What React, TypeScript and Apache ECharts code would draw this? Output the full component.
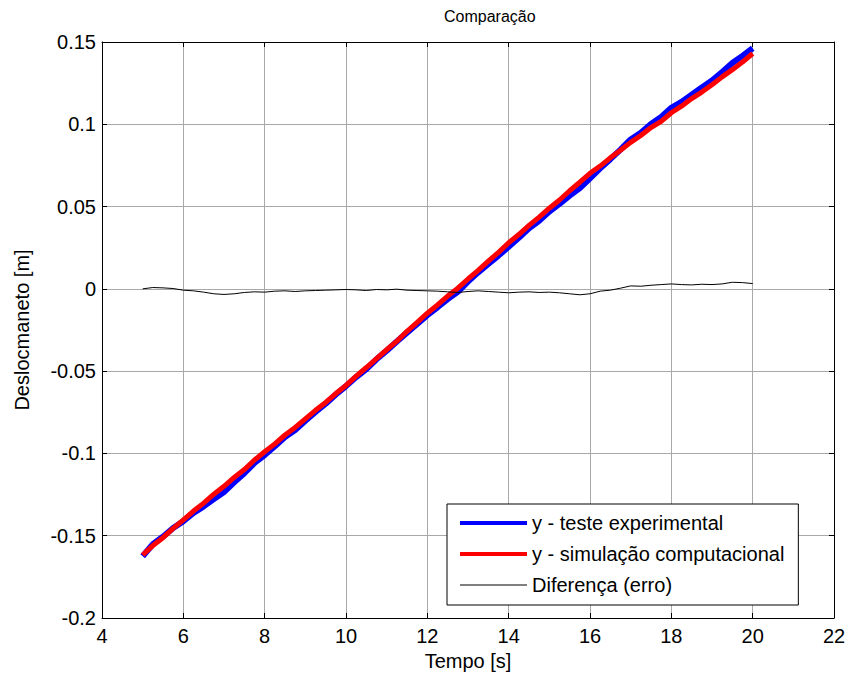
import React, { useEffect, useRef } from "react";
import * as echarts from "echarts";

const TITLE = "Comparação";
const X_NAME = "Tempo [s]";
const Y_NAME = "Deslocmaneto [m]";
const SERIES_NAMES = ["y - teste experimental", "y - simulação computacional", "Diferença (erro)"];

const xTicks = [4, 6, 8, 10, 12, 14, 16, 18, 20, 22];
const yTicks = [-0.2, -0.15, -0.1, -0.05, 0, 0.05, 0.1, 0.15];

const time = [
  5.0, 5.25, 5.5, 5.75, 6.0, 6.25, 6.5, 6.75, 7.0, 7.25, 7.5, 7.75, 8.0, 8.25, 8.5, 8.75,
  9.0, 9.25, 9.5, 9.75, 10.0, 10.25, 10.5, 10.75, 11.0, 11.25, 11.5, 11.75, 12.0, 12.25, 12.5, 12.75,
  13.0, 13.25, 13.5, 13.75, 14.0, 14.25, 14.5, 14.75, 15.0, 15.25, 15.5, 15.75, 16.0, 16.25, 16.5, 16.75,
  17.0, 17.25, 17.5, 17.75, 18.0, 18.25, 18.5, 18.75, 19.0, 19.25, 19.5, 19.75, 20.0,
];

const simulated = [
  -0.1617, -0.156, -0.1512, -0.1455, -0.1404, -0.135, -0.1302, -0.1248, -0.12, -0.1146, -0.1098, -0.104,
  -0.099, -0.0942, -0.0888, -0.0842, -0.079, -0.0738, -0.069, -0.0636, -0.0587, -0.053, -0.0478, -0.0424,
  -0.037, -0.0318, -0.0258, -0.0204, -0.0148, -0.0098, -0.0044, 0.0004, 0.006, 0.0112, 0.0168, 0.0222,
  0.028, 0.033, 0.0386, 0.0436, 0.049, 0.054, 0.0596, 0.0648, 0.0702, 0.0746, 0.0796, 0.0842,
  0.089, 0.0932, 0.098, 0.1018, 0.107, 0.111, 0.1156, 0.1196, 0.124, 0.1288, 0.1332, 0.1378, 0.143,
];

const experimental = [
  -0.1625, -0.1552, -0.1506, -0.1453, -0.1412, -0.1362, -0.1322, -0.1278, -0.1234, -0.1176, -0.112, -0.1058,
  -0.101, -0.0956, -0.09, -0.0858, -0.0802, -0.0748, -0.0698, -0.0642, -0.0591, -0.0536, -0.0488, -0.0428,
  -0.0376, -0.032, -0.0266, -0.0214, -0.016, -0.0112, -0.0062, -0.0018, 0.0044, 0.01, 0.0152, 0.0202,
  0.0256, 0.031, 0.0368, 0.0414, 0.047, 0.0516, 0.0566, 0.0612, 0.0672, 0.0732, 0.0788, 0.0846,
  0.0908, 0.0948, 0.1002, 0.1044, 0.11, 0.1136, 0.118, 0.1224, 0.1266, 0.1318, 0.1372, 0.1416, 0.1462,
];

const difference = [
  0.0, 0.0008, 0.0006, 0.0002, -0.0008, -0.0012, -0.002, -0.003, -0.0034, -0.003, -0.0022, -0.0018,
  -0.002, -0.0014, -0.0012, -0.0016, -0.0012, -0.001, -0.0008, -0.0006, -0.0004, -0.0006, -0.001, -0.0004,
  -0.0006, -0.0002, -0.0008, -0.001, -0.0012, -0.0014, -0.0018, -0.0022, -0.0016, -0.0012, -0.0016, -0.002,
  -0.0024, -0.002, -0.0018, -0.0022, -0.002, -0.0024, -0.003, -0.0036, -0.003, -0.0014, -0.0008, 0.0004,
  0.0018, 0.0016, 0.0022, 0.0026, 0.003, 0.0026, 0.0024, 0.0028, 0.0026, 0.003, 0.004, 0.0038, 0.0032,
];

const FONT = "'Liberation Sans', Arial, sans-serif";

export default function App() {
  const ref = useRef<HTMLDivElement>(null);
  useEffect(() => {
    if (!ref.current) return;
    const chart = echarts.init(ref.current, undefined, { renderer: "svg" });
    const pairs = (ys: number[]) => time.map((t, i) => [t, ys[i]]);
    const fmtY = (v: number) => {
      const m = yTicks.find((t) => Math.abs(t - v) < 1e-9);
      return m === undefined ? "" : String(m);
    };
    const fmtX = (v: number) => {
      const m = xTicks.find((t) => Math.abs(t - v) < 1e-9);
      return m === undefined ? "" : String(m);
    };
    const gridLine = { show: true, lineStyle: { color: "#a8a8a8", width: 1 } };
    const axisLine = { show: true, onZero: false, lineStyle: { color: "#000", width: 1 } };
    const tick = { show: true, inside: true, length: 5, lineStyle: { color: "#000", width: 1 } };
    chart.setOption({
      animation: false,
      backgroundColor: "#fff",
      title: {
        text: TITLE,
        left: 444,
        top: 8,
        padding: 0,
        textStyle: { fontSize: 16, fontWeight: "normal", color: "#000", fontFamily: FONT },
      },
      grid: { left: 102, right: 15, top: 42, bottom: 61, show: false },
      legend: {
        data: [
          { name: SERIES_NAMES[0], icon: "path://M0,0H67V4H0Z" },
          { name: SERIES_NAMES[1], icon: "path://M0,0H67V4H0Z" },
          { name: SERIES_NAMES[2], icon: "path://M0,0H67V1H0Z" },
        ],
        orient: "vertical",
        left: 447,
        top: 504,
        itemWidth: 67,
        itemHeight: 20,
        itemGap: 7,
        padding: [7, 14, 8, 13],
        borderColor: "#000",
        borderWidth: 1,
        backgroundColor: "#fff",
        selectedMode: false,
        itemStyle: { borderWidth: 0 },
        textStyle: { fontSize: 20, color: "#000", fontFamily: FONT, lineHeight: 24 },
      },
      xAxis: [
        {
          type: "value",
          min: 4,
          max: 22,
          interval: 2,
          position: "bottom",
          name: X_NAME,
          nameLocation: "middle",
          nameGap: 30,
          nameTextStyle: { fontSize: 20, color: "#000", fontFamily: FONT },
          axisLine,
          axisTick: tick,
          splitLine: gridLine,
          axisLabel: { fontSize: 20, color: "#000", fontFamily: FONT, margin: 8, formatter: fmtX },
        },
        {
          type: "value",
          min: 4,
          max: 22,
          interval: 2,
          position: "top",
          axisLine,
          axisTick: tick,
          splitLine: { show: false },
          axisLabel: { show: false },
        },
      ],
      yAxis: [
        {
          type: "value",
          min: -0.2,
          max: 0.15,
          interval: 0.05,
          position: "left",
          name: Y_NAME,
          nameLocation: "middle",
          nameGap: 70,
          nameTextStyle: { fontSize: 20, color: "#000", fontFamily: FONT },
          axisLine,
          axisTick: tick,
          splitLine: gridLine,
          axisLabel: { fontSize: 20, color: "#000", fontFamily: FONT, margin: 6, formatter: fmtY },
        },
        {
          type: "value",
          min: -0.2,
          max: 0.15,
          interval: 0.05,
          position: "right",
          axisLine,
          axisTick: tick,
          splitLine: { show: false },
          axisLabel: { show: false },
        },
      ],
      series: [
        {
          name: SERIES_NAMES[0],
          type: "line",
          data: pairs(experimental),
          showSymbol: false,
          symbol: "none",
          color: "#0000ff",
          lineStyle: { color: "#0000ff", width: 6 },
          z: 2,
        },
        {
          name: SERIES_NAMES[1],
          type: "line",
          data: pairs(simulated),
          showSymbol: false,
          symbol: "none",
          color: "#ff0000",
          lineStyle: { color: "#ff0000", width: 5 },
          z: 3,
        },
        {
          name: SERIES_NAMES[2],
          type: "line",
          data: pairs(difference),
          showSymbol: false,
          symbol: "none",
          color: "#000000",
          lineStyle: { color: "#000000", width: 1 },
          z: 4,
        },
      ],
    });
    return () => chart.dispose();
  }, []);
  return (
    <div
      ref={ref}
      style={{ position: "fixed", left: 0, top: 0, width: 849, height: 679, background: "#fff" }}
    />
  );
}
